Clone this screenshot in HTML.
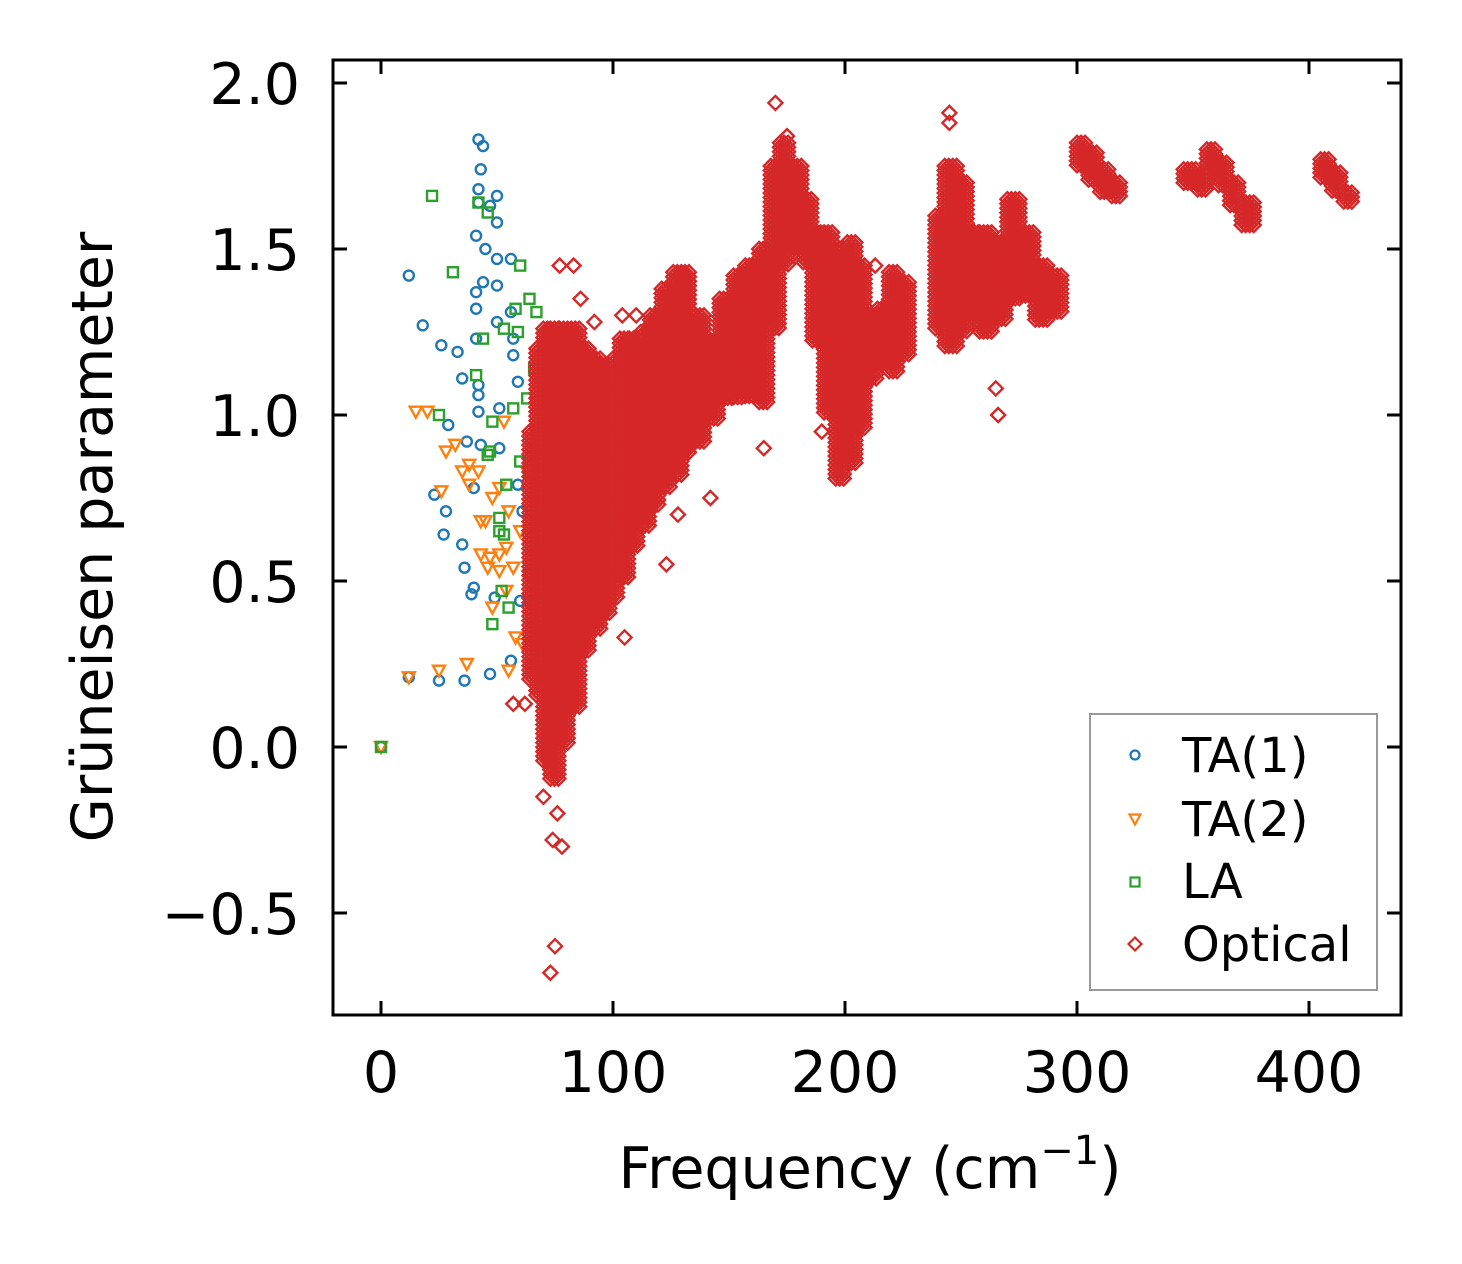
<!DOCTYPE html>
<html><head><meta charset="utf-8"><style>
html,body{margin:0;padding:0;background:#fff;}
svg{display:block;font-family:"DejaVu Sans","Liberation Sans",sans-serif;}
</style></head><body>
<svg id="chart" width="1462" height="1264" viewBox="0 0 1462 1264" xmlns="http://www.w3.org/2000/svg">
<rect width="1462" height="1264" fill="#fff"/>
<g id="marks"></g>
<g id="axes"></g>
</svg>
<script>
const xTicks=[0,100,200,300,400];
const yTicks=[-0.5,0.0,0.5,1.0,1.5,2.0];
const yTickLabels=["\u22120.5","0.0","0.5","1.0","1.5","2.0"];
const ta1F=[0,12,18,26,33,29,23,27,28,35,36,39,12,25,36,47,42,44,43,42,42,50,47,50,41,45,50,44,41,50,56,41,50,41,57,57,35,42,42,42,51,37,43,51,40,40,49,56,60,61,64,59,59,56];
const ta1G=[0,1.42,1.27,1.21,1.19,0.97,0.76,0.64,0.71,0.61,0.54,0.46,0.21,0.2,0.2,0.22,1.83,1.81,1.74,1.68,1.64,1.66,1.63,1.58,1.54,1.5,1.47,1.4,1.37,1.39,1.47,1.32,1.28,1.23,1.23,1.18,1.11,1.09,1.06,1.01,1.02,0.92,0.91,0.9,0.78,0.48,0.45,0.26,0.44,0.71,0.52,0.79,1.1,1.31];
const ta2F=[0,15,20,25,37,28,32,35,38,38,26,42,43,45,48,51,55,43,47,51,54,46,51,57,48,54,58,55,61,53,60,63,12];
const ta2G=[0,1.01,1.01,0.23,0.25,0.89,0.91,0.83,0.85,0.79,0.77,0.83,0.68,0.68,0.75,0.78,0.71,0.58,0.57,0.58,0.6,0.54,0.53,0.54,0.42,0.47,0.33,0.23,0.31,0.98,0.65,0.83,0.21];
const laF=[0,22,31,25,46,42,60,58,59,64,67,53,41,44,47,46,48,57,63,68,66,60,64,54,53,51,67,52,48,55,66,69,70,67,51];
const laG=[0,1.66,1.43,1.0,1.61,1.64,1.45,1.32,1.25,1.35,1.31,1.26,1.12,1.23,0.89,0.88,0.98,1.02,1.05,0.95,1.14,0.86,0.83,0.79,0.64,0.65,0.68,0.47,0.37,0.42,0.43,0.21,0.33,0.58,0.69];
// optical bands: frequency range [F0,F1] spanning gamma [Lo,Hi]
const optF0=[64,67,70,73,77,82,86,91,95,100,103,107,112,116,121,126,131,134,140,146,152,157,163,168,172,176,182,186,191,196,201,205,210,214,219,224,239,243,249,254,258,264,270,276,282,288,300,305,310,315,346,352,356,361,366,371,405,410,415];
const optF1=[67,70,73,77,82,86,91,95,100,103,107,112,116,121,126,131,134,140,146,152,157,163,168,172,176,182,186,191,196,201,205,210,214,219,224,229,243,249,254,258,264,270,276,282,288,294,305,310,315,320,352,356,361,366,371,377,410,415,420];
const optLo=[0.2,0.15,-0.05,-0.1,0.0,0.12,0.28,0.35,0.40,0.45,0.50,0.60,0.66,0.72,0.78,0.82,0.88,0.92,0.98,1.05,1.05,1.05,1.03,1.25,1.45,1.50,1.45,1.22,1.0,0.80,0.85,0.95,1.10,1.15,1.13,1.18,1.25,1.20,1.25,1.30,1.25,1.28,1.35,1.35,1.28,1.30,1.74,1.70,1.67,1.65,1.69,1.67,1.72,1.68,1.62,1.57,1.71,1.67,1.63];
const optHi=[0.95,1.2,1.26,1.26,1.26,1.26,1.2,1.17,1.15,1.17,1.23,1.23,1.25,1.30,1.38,1.43,1.43,1.30,1.22,1.35,1.42,1.45,1.50,1.75,1.82,1.75,1.65,1.55,1.55,1.50,1.52,1.45,1.30,1.32,1.43,1.40,1.60,1.75,1.70,1.55,1.55,1.52,1.65,1.55,1.45,1.42,1.82,1.79,1.74,1.70,1.74,1.72,1.80,1.76,1.70,1.64,1.77,1.73,1.67];
const outF=[75,73,78,74,76,70,83,77,104,142,105,123,170,175,245,245,265,266,213,190,165,62,57,86,92,110,128];
const outG=[-0.6,-0.68,-0.3,-0.28,-0.2,-0.15,1.45,1.45,1.3,0.75,0.33,0.55,1.94,1.84,1.91,1.88,1.08,1.0,1.45,0.95,0.9,0.13,0.13,1.35,1.28,1.3,0.7];

const X0=333,X1=1401,Y0=60,Y1=1015;
function sx(f){return 381+f*2.32;}
function sy(g){return 747-g*332;}
const NS="http://www.w3.org/2000/svg";
const marks=document.getElementById('marks');
const axes=document.getElementById('axes');
function mk(tag,attrs,parent){const e=document.createElementNS(NS,tag);for(const k in attrs)e.setAttribute(k,attrs[k]);parent.appendChild(e);return e;}
function circle(f,g,name){const e=mk('circle',{cx:sx(f),cy:sy(g),r:5,fill:'none',stroke:'#1f77b4','stroke-width':2.4},marks);

}
function tri(f,g,name){const x=sx(f),y=sy(g);const e=mk('polygon',{points:`${x-6},${y-5} ${x+6},${y-5} ${x},${y+6}`,fill:'none',stroke:'#ff7f0e','stroke-width':2.4},marks);

}
function sq(f,g,name){const x=sx(f),y=sy(g);const e=mk('rect',{x:x-5,y:y-5,width:10,height:10,fill:'none',stroke:'#2ca02c','stroke-width':2.4},marks);

}
function dia(x,y,parent,name){const e=mk('polygon',{points:`${x},${y-7} ${x+7},${y} ${x},${y+7} ${x-7},${y}`,fill:'none',stroke:'#d62728','stroke-width':2.4},parent);

}

ta1F.forEach((f,i)=>circle(f,ta1G[i],'ta1-point'));
ta2F.forEach((f,i)=>tri(f,ta2G[i],'ta2-point'));
laF.forEach((f,i)=>sq(f,laG[i],'la-point'));
const opt=mk('g',{},marks);


optF0.forEach((f0,i)=>{
  const xa=sx(f0),xb=sx(optF1[i]),ya=sy(optHi[i]),yb=sy(optLo[i]);
  for(let x=xa;x<=xb+0.1;x+=4){for(let y=ya;y<=yb+0.1;y+=4.5){dia(x,y,opt,'optical-point');}}
});
outF.forEach((f,i)=>dia(sx(f),sy(outG[i]),opt,'optical-point'));

const fr=mk('rect',{x:X0,y:Y0,width:X1-X0,height:Y1-Y0,fill:'none',stroke:'#000','stroke-width':3},axes);


xTicks.forEach(t=>{const x=sx(t);
 mk('line',{x1:x,y1:Y1,x2:x,y2:Y1-14,stroke:'#000','stroke-width':3},axes);
 mk('line',{x1:x,y1:Y0,x2:x,y2:Y0+14,stroke:'#000','stroke-width':3},axes);
 const tx=mk('text',{x:x,y:1092,'font-size':57,'text-anchor':'middle',fill:'#000'},axes);tx.textContent=String(t);
 
 });
yTicks.forEach((t,i)=>{const y=sy(t);
 mk('line',{x1:X0,y1:y,x2:X0+14,y2:y,stroke:'#000','stroke-width':3},axes);
 mk('line',{x1:X1,y1:y,x2:X1-14,y2:y,stroke:'#000','stroke-width':3},axes);
 const tx=mk('text',{x:300,y:y+21,'font-size':57,'text-anchor':'end',fill:'#000'},axes);tx.textContent=yTickLabels[i];
 
 });
</script>
<svg style="position:absolute;left:0;top:0" width="1462" height="1264" xmlns="http://www.w3.org/2000/svg">
<text x="870" y="1188" font-size="57" text-anchor="middle" font-family="DejaVu Sans, Liberation Sans, sans-serif">Frequency (cm<tspan font-size="40" dy="-24">−1</tspan><tspan dy="24">)</tspan></text>
<text transform="translate(112,537) rotate(-90)" font-size="57" text-anchor="middle" font-family="DejaVu Sans, Liberation Sans, sans-serif">Grüneisen parameter</text>
<g font-family="DejaVu Sans, Liberation Sans, sans-serif" font-size="48">
<rect x="1090" y="714" width="287" height="276" fill="#fff" fill-opacity="0.8" stroke="#999" stroke-width="2"/>
<circle cx="1135" cy="755" r="4.5" fill="none" stroke="#1f77b4" stroke-width="2.2"/>
<text x="1182" y="772">TA(1)</text>
<polygon points="1129.5,814.5 1140.5,814.5 1135,824.5" fill="none" stroke="#ff7f0e" stroke-width="2.2"/>
<text x="1182" y="836">TA(2)</text>
<rect x="1130.5" y="877.5" width="9" height="9" fill="none" stroke="#2ca02c" stroke-width="2.2"/>
<text x="1182" y="898">LA</text>
<polygon points="1135,937.5 1141.5,944 1135,950.5 1128.5,944" fill="none" stroke="#d62728" stroke-width="2.2"/>
<text x="1182" y="961">Optical</text>
</g>
</svg>
</body></html>
